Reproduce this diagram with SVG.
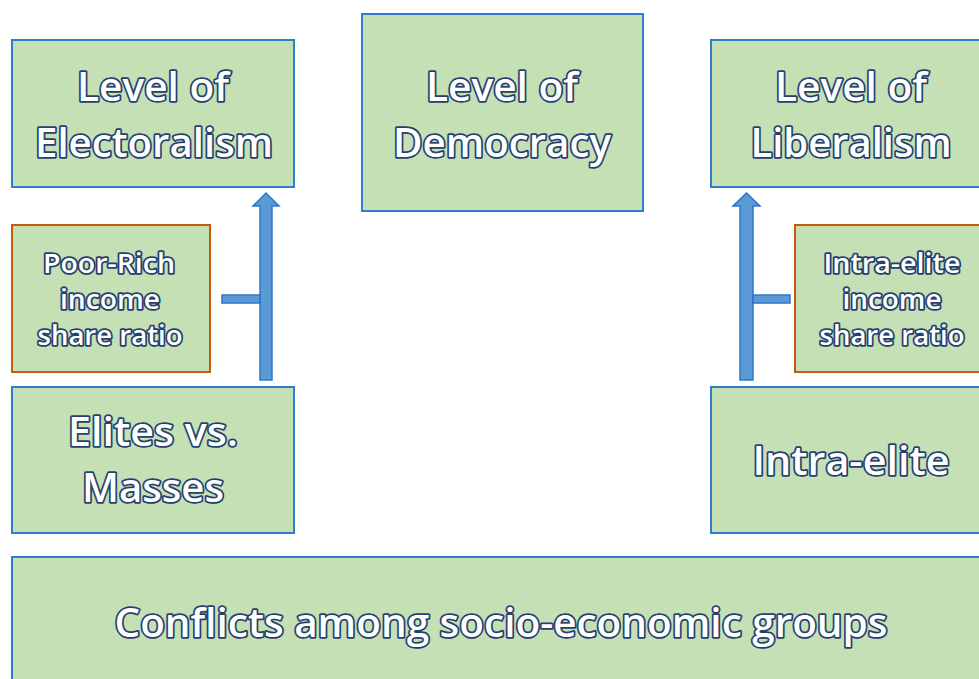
<svg xmlns="http://www.w3.org/2000/svg" width="979" height="679" viewBox="0 0 979 679">
<style>
.box{fill:#c5e0b4;stroke:#2e7dd0;stroke-width:2}
.obox{fill:#c5e0b4;stroke:#c55a11;stroke-width:2}
.t{font-family:"Open Sans","DejaVu Sans",sans-serif;font-weight:600;fill:#ffffff;stroke:#25406f;stroke-width:3.5;paint-order:stroke;stroke-linejoin:round;text-anchor:middle}
.big{font-size:40px}
.sm{font-size:27px}
.arr{fill:#5b9bd5;stroke:#2e75c6;stroke-width:1.5}
</style>
<rect width="979" height="679" fill="#ffffff"/>
<g id="connectors">
<polygon class="arr" points="260,380 272,380 272,206 279,206 266,193 253,206 260,206"/>
<rect class="arr" x="222" y="295" width="38" height="8" stroke="none"/>
<polygon class="arr" points="740,380 753,380 753,206 760,206 746.5,193 733,206 740,206"/>
<rect class="arr" x="753" y="295" width="37" height="8" stroke="none"/>
</g>
<g id="electoralism">
<rect class="box" x="12" y="40" width="282" height="147"/>
<text class="t big" x="153" y="101" textLength="152" lengthAdjust="spacingAndGlyphs">Level of</text>
<text class="t big" x="154" y="157" textLength="238" lengthAdjust="spacingAndGlyphs">Electoralism</text>
</g>
<g id="democracy">
<rect class="box" x="362" y="14" width="281" height="197"/>
<text class="t big" x="502" y="101" textLength="152" lengthAdjust="spacingAndGlyphs">Level of</text>
<text class="t big" x="502" y="157" textLength="218" lengthAdjust="spacingAndGlyphs">Democracy</text>
</g>
<g id="liberalism">
<rect class="box" x="711" y="40" width="282" height="147"/>
<text class="t big" x="851" y="101" textLength="152" lengthAdjust="spacingAndGlyphs">Level of</text>
<text class="t big" x="851" y="157" textLength="201" lengthAdjust="spacingAndGlyphs">Liberalism</text>
</g>
<g id="poor-rich">
<rect class="obox" x="12" y="225" width="198" height="147"/>
<text class="t sm" x="109" y="273" textLength="132" lengthAdjust="spacingAndGlyphs">Poor-Rich</text>
<text class="t sm" x="110" y="309" textLength="100" lengthAdjust="spacingAndGlyphs">income</text>
<text class="t sm" x="110" y="345" textLength="145" lengthAdjust="spacingAndGlyphs">share ratio</text>
</g>
<g id="intra-elite-ratio">
<rect class="obox" x="795" y="225" width="198" height="147"/>
<text class="t sm" x="892" y="273" textLength="137" lengthAdjust="spacingAndGlyphs">Intra-elite</text>
<text class="t sm" x="892" y="309" textLength="99" lengthAdjust="spacingAndGlyphs">income</text>
<text class="t sm" x="892" y="345" textLength="145" lengthAdjust="spacingAndGlyphs">share ratio</text>
</g>
<g id="elites-masses">
<rect class="box" x="12" y="387" width="282" height="146"/>
<text class="t big" x="153" y="446" textLength="170" lengthAdjust="spacingAndGlyphs">Elites vs.</text>
<text class="t big" x="153" y="502" textLength="142" lengthAdjust="spacingAndGlyphs">Masses</text>
</g>
<g id="intra-elite">
<rect class="box" x="711" y="387" width="282" height="146"/>
<text class="t big" x="851" y="475" textLength="197" lengthAdjust="spacingAndGlyphs">Intra-elite</text>
</g>
<g id="conflicts">
<rect class="box" x="12" y="557" width="981" height="140"/>
<text class="t big" x="501" y="637" textLength="773" lengthAdjust="spacingAndGlyphs">Conflicts among socio-economic groups</text>
</g>
</svg>
